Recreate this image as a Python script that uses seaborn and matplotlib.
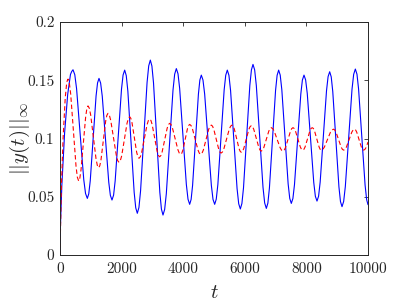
import numpy as np
import pandas as pd
import matplotlib
matplotlib.use("Agg")
import matplotlib.pyplot as plt
import seaborn as sns

# ---- data ----
blue_t = [0, 15, 60, 150, 250, 340, 422,
          538, 654, 771, 887, 982, 1076, 1171, 1266,
          1372, 1477, 1583, 1688, 1791, 1894, 1997, 2100,
          2203, 2305, 2408, 2510, 2616, 2722, 2827, 2933,
          3036, 3139, 3241, 3344, 3452, 3561, 3669, 3777,
          3885, 3994, 4102, 4210, 4305, 4399, 4494, 4588,
          4697, 4805, 4914, 5022, 5125, 5227, 5330, 5432,
          5538, 5644, 5749, 5855, 5958, 6061, 6163, 6266,
          6374, 6483, 6591, 6699, 6799, 6899, 6999, 7099,
          7202, 7305, 7407, 7510, 7613, 7716, 7819, 7922,
          8028, 8133, 8239, 8344, 8447, 8550, 8653, 8756,
          8856, 8956, 9056, 9156, 9264, 9373, 9481, 9589,
          9694, 9800, 9905, 10000]
blue_y = [0.0, 0.025, 0.06, 0.105, 0.138, 0.155, 0.159,
          0.1428, 0.1038, 0.0648, 0.0486, 0.0637, 0.1001, 0.1365, 0.1516,
          0.1363, 0.0994, 0.0625, 0.0472, 0.0636, 0.1030, 0.1424, 0.1587,
          0.1407, 0.0973, 0.0538, 0.0358, 0.0551, 0.1016, 0.1481, 0.1673,
          0.1478, 0.1008, 0.0538, 0.0343, 0.0527, 0.0972, 0.1416, 0.1600,
          0.1430, 0.1018, 0.0606, 0.0435, 0.0598, 0.0990, 0.1381, 0.1544,
          0.1381, 0.0990, 0.0598, 0.0435, 0.0604, 0.1011, 0.1418, 0.1587,
          0.1412, 0.0991, 0.0570, 0.0395, 0.0577, 0.1016, 0.1455, 0.1636,
          0.1455, 0.1018, 0.0581, 0.0400, 0.0574, 0.0994, 0.1413, 0.1587,
          0.1419, 0.1015, 0.0611, 0.0443, 0.0604, 0.0994, 0.1383, 0.1544,
          0.1386, 0.1004, 0.0622, 0.0463, 0.0626, 0.1018, 0.1410, 0.1573,
          0.1403, 0.0994, 0.0585, 0.0415, 0.0588, 0.1006, 0.1423, 0.1596,
          0.1425, 0.1013, 0.0601, 0.0432]
# extra readings close to each crest / trough of the blue curve
blue_t_near = [380, 480, 829, 934, 1219, 1319, 1635, 1740, 2048, 2151,
               2459, 2563, 2880, 2984, 3293, 3398, 3723, 3831, 4156, 4257,
               4541, 4642, 4968, 5073, 5381, 5485, 5802, 5906, 6215, 6320,
               6645, 6749, 7049, 7150, 7459, 7562, 7870, 7975, 8291, 8396,
               8704, 8806, 9106, 9210, 9535, 9642, 9957]
blue_y_near = [0.1575, 0.1548, 0.0528, 0.0525, 0.1477, 0.1476, 0.0512, 0.0514,
               0.1545, 0.1540, 0.0405, 0.0408, 0.1623, 0.1622, 0.0394, 0.0391,
               0.1552, 0.1556, 0.0479, 0.0477, 0.1502, 0.1502, 0.0477, 0.0479,
               0.1543, 0.1542, 0.0440, 0.0442, 0.1589, 0.1589, 0.0447, 0.0445,
               0.1542, 0.1544, 0.0486, 0.0485, 0.1502, 0.1503, 0.0504, 0.0505,
               0.1531, 0.1529, 0.0459, 0.0460, 0.1551, 0.1552, 0.0474]

red_t = [0, 40, 100, 170, 260,
         347, 433, 520, 606, 682, 758, 833, 909,
         996, 1082, 1169, 1255, 1331, 1407, 1482, 1558,
         1648, 1737, 1827, 1916, 2003, 2089, 2176, 2262,
         2338, 2414, 2489, 2565, 2652, 2738, 2825, 2911,
         2992, 3073, 3154, 3235, 3316, 3398, 3479, 3560,
         3650, 3740, 3829, 3919, 3992, 4065, 4137, 4210,
         4300, 4389, 4479, 4568, 4654, 4740, 4826, 4912,
         4992, 5071, 5151, 5230, 5319, 5407, 5496, 5584,
         5660, 5736, 5811, 5887, 5968, 6049, 6130, 6211,
         6292, 6374, 6455, 6536, 6617, 6698, 6779, 6860,
         6955, 7050, 7145, 7240, 7321, 7403, 7484, 7565,
         7644, 7723, 7801, 7880, 7958, 8035, 8113, 8190,
         8264, 8337, 8411, 8484, 8583, 8682, 8781, 8880,
         8963, 9045, 9128, 9210, 9298, 9385, 9473, 9560,
         9635, 9710, 9785, 9860, 9945, 10000]
red_y = [0.0, 0.055, 0.100, 0.135, 0.151,
         0.1382, 0.1073, 0.0763, 0.0635, 0.0730, 0.0958, 0.1186, 0.1280,
         0.1202, 0.1015, 0.0827, 0.0749, 0.0817, 0.0983, 0.1148, 0.1216,
         0.1154, 0.1006, 0.0857, 0.0795, 0.0852, 0.0991, 0.1130, 0.1187,
         0.1135, 0.1009, 0.0882, 0.0830, 0.0880, 0.0999, 0.1117, 0.1167,
         0.1120, 0.1005, 0.0890, 0.0843, 0.0885, 0.0987, 0.1088, 0.1130,
         0.1091, 0.0997, 0.0903, 0.0864, 0.0902, 0.0993, 0.1083, 0.1121,
         0.1083, 0.0993, 0.0902, 0.0864, 0.0901, 0.0990, 0.1078, 0.1115,
         0.1080, 0.0995, 0.0910, 0.0875, 0.0910, 0.0995, 0.1080, 0.1115,
         0.1081, 0.0998, 0.0915, 0.0881, 0.0915, 0.0996, 0.1077, 0.1110,
         0.1078, 0.1001, 0.0924, 0.0892, 0.0922, 0.0993, 0.1063, 0.1093,
         0.1063, 0.0993, 0.0922, 0.0892, 0.0922, 0.0993, 0.1063, 0.1093,
         0.1065, 0.0997, 0.0928, 0.0900, 0.0928, 0.0997, 0.1065, 0.1093,
         0.1065, 0.0997, 0.0928, 0.0900, 0.0926, 0.0990, 0.1054, 0.1080,
         0.1054, 0.0990, 0.0926, 0.0900, 0.0926, 0.0990, 0.1054, 0.1080,
         0.1054, 0.0990, 0.0926, 0.0900, 0.0926, 0.0970]
# extra readings close to each crest / trough of the red curve
red_t_near = [220, 303, 563, 644, 871, 952, 1212, 1293, 1520, 1603,
              1871, 1959, 2219, 2300, 2527, 2608, 2868, 2952, 3194, 3276,
              3519, 3605, 3874, 3955, 4174, 4255, 4523, 4611, 4869, 4952,
              5190, 5274, 5540, 5622, 5849, 5928, 6170, 6252, 6495, 6577,
              6819, 6908, 7192, 7281, 7524, 7604, 7841, 7919, 8151, 8227,
              8447, 8534, 8830, 8921, 9169, 9254, 9516, 9598, 9822, 9900]
red_y_near = [0.1485, 0.1477, 0.0668, 0.0660, 0.1255, 0.1260, 0.0769, 0.0767,
              0.1198, 0.1200, 0.0811, 0.0810, 0.1172, 0.1173, 0.0844, 0.0843,
              0.1154, 0.1155, 0.0855, 0.0854, 0.1119, 0.1120, 0.0874, 0.0874,
              0.1111, 0.1111, 0.0874, 0.0874, 0.1105, 0.1106, 0.0884, 0.0884,
              0.1106, 0.1106, 0.0890, 0.0890, 0.1101, 0.1102, 0.0900, 0.0900,
              0.1085, 0.1085, 0.0900, 0.0900, 0.1085, 0.1086, 0.0907, 0.0907,
              0.1086, 0.1086, 0.0907, 0.0907, 0.1073, 0.1073, 0.0907, 0.0907,
              0.1073, 0.1073, 0.0907, 0.0907]

x_ticks = [0, 2000, 4000, 6000, 8000, 10000]
x_tick_labels = ["0", "2000", "4000", "6000", "8000", "10000"]
y_ticks = [0, 0.05, 0.1, 0.15, 0.2]
y_tick_labels = ["0", "0.05", "0.1", "0.15", "0.2"]
x_label = r"$t$"
y_label = r"$||y(t)||_{\infty}$"

# ---- assemble (merge readings, ordered by t) ----
df_b = pd.DataFrame({"t": blue_t + blue_t_near,
                     "y": blue_y + blue_y_near}).sort_values("t")
df_r = pd.DataFrame({"t": red_t + red_t_near,
                     "y": red_y + red_y_near}).sort_values("t")

# ---- plotting ----
sns.set_style("white")
plt.rcParams["font.family"] = ["cmr10", "DejaVu Serif"]
plt.rcParams["mathtext.fontset"] = "cm"
plt.rcParams["axes.formatter.use_mathtext"] = True

fig = plt.figure(figsize=(4.07, 3.05), dpi=100)
ax = fig.add_axes([60 / 407, 50 / 305, 308 / 407, 233 / 305])

sns.lineplot(data=df_b, x="t", y="y", ax=ax, color="#0000ff", lw=0.8,
             estimator=None, sort=False)
sns.lineplot(data=df_r, x="t", y="y", ax=ax, color="#ff0000", lw=0.8,
             linestyle=(0, (4, 2.5)), estimator=None, sort=False)

ax.set_xlim(0, 10000)
ax.set_ylim(0, 0.2)
ax.set_xticks(x_ticks)
ax.set_xticklabels(x_tick_labels)
ax.set_yticks(y_ticks)
ax.set_yticklabels(y_tick_labels)
ax.tick_params(direction="in", length=3, width=0.6, top=True, right=True,
               labelsize=11, colors="#262626")
ax.tick_params(axis="x", pad=5)
ax.tick_params(axis="y", pad=4)
for s in ax.spines.values():
    s.set_color("#262626")
    s.set_linewidth(0.7)
    s.set_visible(True)
ax.set_xlabel(x_label, fontsize=15)
ax.set_ylabel(y_label, fontsize=15)
ax.xaxis.set_label_coords(0.5, -0.125)
ax.yaxis.set_label_coords(-0.09, 0.5)

fig.savefig("out.png", dpi=100)
